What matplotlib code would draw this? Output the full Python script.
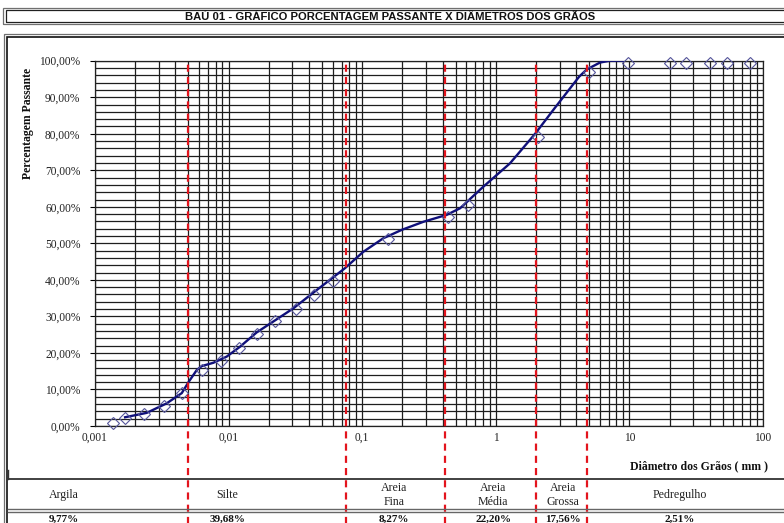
import matplotlib
matplotlib.use("Agg")
import matplotlib.pyplot as plt
from matplotlib import font_manager
from matplotlib.patches import Rectangle
from matplotlib.lines import Line2D
from matplotlib.ticker import FixedLocator, LogLocator, NullFormatter

# ---- ensaio de granulometria (peneiramento + sedimentação) ----
diam_ensaio = [0.00136, 0.00168, 0.00233, 0.00330, 0.00448, 0.00630, 0.00880,
               0.0119, 0.0162, 0.0224, 0.0317, 0.0437, 0.0601, 0.157,
               0.44, 0.62, 2.06, 5.0, 9.8, 20.0, 26.5, 40.0, 53.5, 80.0]
pass_ensaio = [0.9, 2.1, 3.2, 5.6, 9.1, 15.3, 17.9, 21.4, 25.2, 28.8, 32.1,
               35.9, 39.7, 51.1, 57.3, 60.5, 79.2, 97.0, 99.5, 99.5, 99.5,
               99.5, 99.5, 99.5]

# ---- curva granulométrica ----
diam_curva = [0.00168, 0.00244, 0.00344, 0.00446, 0.00503, 0.00577, 0.00629,
              0.00768, 0.00968, 0.01217, 0.0162, 0.0204, 0.0305, 0.0456,
              0.0743, 0.102, 0.144, 0.198, 0.287, 0.429, 0.540, 0.806, 1.277,
              1.98, 2.69, 3.59, 4.2, 4.79, 6.03, 7.16, 9.0]
pass_curva = [2.4, 3.6, 6.2, 9.0, 12.1, 15.3, 16.4, 17.3, 19.0, 21.7, 25.6,
              28.0, 32.2, 37.2, 43.2, 47.7, 51.4, 53.7, 55.9, 57.8, 59.6,
              65.5, 71.9, 80.1, 86.5, 92.4, 95.6, 97.6, 99.5, 100.0, 100.0]

# ---- limites das frações (mm) e resumo ----
limites = [0.005, 0.075, 0.42, 2.0, 4.8]
fracoes = ["Argila", "Silte", "Areia\nFina", "Areia\nMédia", "Areia\nGrossa", "Pedregulho"]
fracoes_pct = ["9,77%", "39,68%", "8,27%", "22,20%", "17,56%", "2,51%"]

y_ticks = [0, 10, 20, 30, 40, 50, 60, 70, 80, 90, 100]
y_ticklabels = ["0,00%", "10,00%", "20,00%", "30,00%", "40,00%", "50,00%",
                "60,00%", "70,00%", "80,00%", "90,00%", "100,00%"]
x_ticks = [0.001, 0.01, 0.1, 1, 10, 100]
x_ticklabels = ["0,001", "0,01", "0,1", "1", "10", "100"]

titulo = "BAÚ 01 - GRÁFICO PORCENTAGEM PASSANTE X DIÂMETROS DOS GRÃOS"

W, H = 784, 523
SERIF = "Liberation Serif"
names = {f.name for f in font_manager.fontManager.ttflist}
NARROW = "Liberation Sans Narrow" if "Liberation Sans Narrow" in names else "Liberation Sans"


def fx(px):
    return px / W


def fy(py):
    return 1 - py / H


fig = plt.figure(figsize=(W / 100, H / 100), dpi=100)
fig.patch.set_facecolor("white")

# ---- moldura do título ----
for (x0, y0, x1, y1, c, lw) in [(3, 8, 800, 24, "#707070", 0.9), (6, 10.5, 800, 21.5, "#202020", 0.9)]:
    fig.patches.append(Rectangle((fx(x0), fy(y1)), fx(x1 - x0), (y1 - y0) / H,
                                 transform=fig.transFigure, fill=False,
                                 edgecolor=c, linewidth=lw))
fig.text(fx(390), fy(19.6), titulo, ha="center", va="baseline",
         fontsize=8.1, fontweight="bold", family=NARROW, color="#111111")

# ---- moldura do gráfico ----
for (x0, y0, x1, y1, c, lw) in [(4, 34, 800, 540, "#707070", 0.9), (7, 37, 800, 540, "#111111", 1.2)]:
    fig.patches.append(Rectangle((fx(x0), fy(y1)), fx(x1 - x0), (y1 - y0) / H,
                                 transform=fig.transFigure, fill=False,
                                 edgecolor=c, linewidth=lw))

# ---- área de plotagem ----
ax = fig.add_axes([fx(95), fy(426), fx(763 - 95), (426 - 60.7) / H])
ax.set_xscale("log")
ax.set_xlim(0.001, 100)
ax.set_ylim(0, 100)

ax.yaxis.set_major_locator(FixedLocator(y_ticks))
ax.yaxis.set_minor_locator(FixedLocator([v for v in range(0, 101, 2)]))
ax.set_yticklabels(y_ticklabels)
ax.xaxis.set_major_locator(FixedLocator(x_ticks))
ax.set_xticklabels(x_ticklabels)
ax.xaxis.set_minor_locator(LogLocator(base=10, subs=range(2, 10)))
ax.xaxis.set_minor_formatter(NullFormatter())

ax.grid(True, which="both", axis="both", color="#1e1e1e", linewidth=0.9)
ax.set_axisbelow(True)
for s in ax.spines.values():
    s.set_color("#222222")
    s.set_linewidth(0.9)

ax.tick_params(axis="y", which="major", length=3.5, width=0.8, pad=7,
               labelsize=8.3, labelcolor="#222222", labelfontfamily=SERIF)
ax.tick_params(axis="y", which="minor", length=0)
ax.tick_params(axis="x", which="both", length=0, pad=4,
               labelsize=8.3, labelcolor="#222222", labelfontfamily=SERIF)

# curva e pontos do ensaio
ax.plot(diam_curva, pass_curva, color="#10107a", linewidth=1.7, zorder=4,
        solid_joinstyle="round")
ax.plot(diam_ensaio, pass_ensaio, linestyle="none", marker="D", markersize=6.6,
        markerfacecolor="none", markeredgecolor="#55559a", markeredgewidth=0.8,
        zorder=5, clip_on=False)

# limites das frações
for lim in limites:
    ax.axvline(lim, ymin=-0.27, ymax=0.993, color="#e3141d", linewidth=1.6,
               dashes=(3.2, 2.3), clip_on=False, zorder=6)

# rótulos dos eixos
fig.text(fx(28), fy(123), "Percentagem Passante", rotation=90, ha="center",
         va="center", fontsize=8.5, fontweight="bold", family=SERIF, color="#111111")
fig.text(fx(768), fy(466), "Diâmetro dos Grãos ( mm )", ha="right", va="center",
         fontsize=8.5, fontweight="bold", family=SERIF, color="#111111")

# ---- quadro das frações ----
fig.add_artist(Line2D([fx(8), fx(800)], [fy(479), fy(479)], color="#333333", linewidth=1.3))
fig.add_artist(Line2D([fx(7.5), fx(7.5)], [fy(470), fy(479)], color="#333333", linewidth=1.0))
fig.add_artist(Line2D([fx(8), fx(800)], [fy(509), fy(509)], color="#666666", linewidth=1.0))
fig.add_artist(Line2D([fx(8), fx(800)], [fy(512), fy(512)], color="#666666", linewidth=1.0))

centros = [64, 227, 394, 493, 563, 680]
for cx, nome, pct in zip(centros, fracoes, fracoes_pct):
    fig.text(fx(cx), fy(495), nome, ha="center", va="center", fontsize=8.6,
             family=SERIF, color="#222222", linespacing=1.15)
    fig.text(fx(cx), fy(519), pct, ha="center", va="center", fontsize=8.0,
             fontweight="bold", family=SERIF, color="#111111")

fig.savefig("out.png", dpi=100, facecolor="white")
